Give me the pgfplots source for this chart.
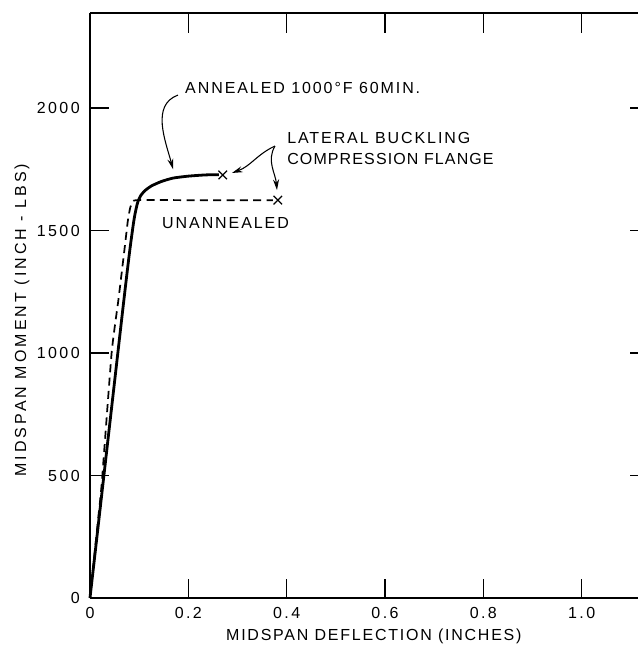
\documentclass[border=0pt]{standalone}
\usepackage{fontspec}
\setmainfont{Liberation Sans}[LetterSpace=12]
\newfontfamily\tickfont{Liberation Sans}[LetterSpace=15]
\newfontfamily\xlabfont{Liberation Sans}[LetterSpace=11]
\newfontfamily\ylabfont{Liberation Sans}[LetterSpace=19]
\newfontfamily\tightfont{Liberation Sans}[LetterSpace=7]
\usepackage{pgfplots}
\pgfplotsset{compat=1.18}
\usetikzlibrary{arrows.meta}
\begin{document}
\fontsize{12}{14}\selectfont
\begin{tikzpicture}
\pgfplotsset{base/.style={scale only axis, width=411pt, height=438.75pt,
  xmin=0, xmax=1.1145, ymin=0, ymax=2388, tick align=inside,
  /pgf/number format/assume math mode=true,
  axis line style={line width=1.4pt}, major tick style={line width=1.2pt, black}}}
\begin{axis}[base, axis x line*=bottom, axis y line*=left,
  xtick={0,0.2,0.4,0.6,0.8,1.0}, xticklabels={0,0.2,0.4,0.6,0.8,1.0},
  ytick={0,500,1000,1500,2000}, yticklabels={0,500,1000,1500,2000},
  major tick length=14pt,
  ticklabel style={font=\tickfont},
  xticklabel style={yshift=-3pt}, yticklabel style={xshift=-3.5pt},
  xlabel={MIDSPAN DEFLECTION (INCHES)}, ylabel={MIDSPAN MOMENT (INCH - LBS)},
  xlabel style={at={(axis description cs:0.518,-0.065)}, anchor=center, font=\xlabfont},
  ylabel style={at={(axis description cs:-0.124,0.475)}, anchor=center, font=\ylabfont},
  clip=false]
\addplot[line width=2.1pt, smooth, tension=0.4] coordinates {
(0,0) (0.03,530) (0.068,1200) (0.081,1420) (0.09,1550) (0.097,1615) (0.104,1645)
(0.113,1665) (0.125,1682) (0.145,1700) (0.169,1714) (0.2,1722) (0.235,1727) (0.262,1728)};
\addplot[line width=1.3pt, dash pattern=on 6pt off 4pt, smooth, tension=0.3] coordinates {
(0,0) (0.017,330) (0.024,470) (0.044,1000) (0.058,1220) (0.07,1420) (0.077,1540)
(0.082,1595) (0.087,1615) (0.095,1624) (0.2,1624) (0.372,1624)};
\addplot[only marks, mark=x, mark size=4.5pt, line width=0.9pt] coordinates {(0.27,1727) (0.382,1624)};
\node[anchor=west, inner sep=0pt] at (axis cs:0.1932,2082) {ANNEALED 1000°F 60MIN.};
\node[anchor=west, inner sep=0pt] at (axis cs:0.4007,1878) {LATERAL BUCKLING};
\node[anchor=west, inner sep=0pt, font=\tightfont] at (axis cs:0.4007,1792) {COMPRESSION FLANGE};
\node[anchor=west, inner sep=0pt] at (axis cs:0.1464,1531) {UNANNEALED};
\draw[line width=0.8pt, -{Stealth[length=8pt,width=4.5pt]}] (axis cs:0.179,2053) to[out=200,in=105] (axis cs:0.169,1750);
\draw[line width=0.8pt, -{Stealth[length=8pt,width=4.5pt]}] (axis cs:0.3762,1845) to[out=205,in=20] (axis cs:0.2888,1735);
\draw[line width=0.8pt, -{Stealth[length=8pt,width=4.5pt]}] (axis cs:0.3762,1845) to[out=240,in=95] (axis cs:0.3803,1665);
\coordinate (bbsw) at (axis description cs:-0.1642,-0.08205);
\coordinate (bbne) at (axis description cs:1,1.0222);
\end{axis}
\begin{axis}[base, axis x line*=top, axis y line=none,
  xtick={0.2,0.4,0.6,0.8,1.0}, xticklabels=\empty, ytick=\empty, major tick length=15pt]
\end{axis}
\begin{axis}[base, axis y line*=right, axis x line=none, y axis line style={draw=none},
  ytick={500,1000,1500,2000}, yticklabels=\empty, xtick=\empty, major tick length=6pt]
\end{axis}
\pgfresetboundingbox
\path[use as bounding box] (bbsw) rectangle (bbne);
\end{tikzpicture}
\end{document}
